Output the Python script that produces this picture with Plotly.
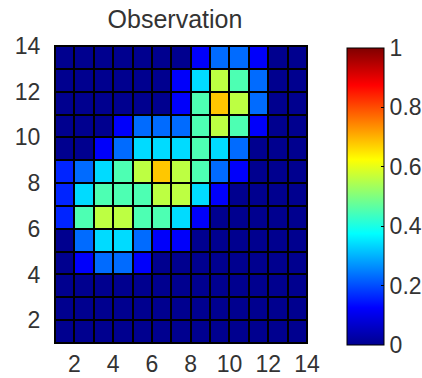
import plotly.graph_objects as go

# cell edges (pcolor-style: 13x13 cells spanning 1..14)
x_edges = list(range(1, 15))
y_edges = list(range(1, 15))

# values per row, bottom (y=1) to top (y=13)
row_y1 = [0, 0, 0, 0, 0, 0, 0, 0, 0, 0, 0, 0, 0]
row_y2 = [0, 0, 0, 0, 0, 0, 0, 0, 0, 0, 0, 0, 0]
row_y3 = [0, 0, 0, 0, 0, 0, 0, 0, 0, 0, 0, 0, 0]
row_y4 = [0, 0.12, 0.23, 0.23, 0.12, 0, 0, 0, 0, 0, 0, 0, 0]
row_y5 = [0, 0.23, 0.34, 0.34, 0.23, 0.12, 0.12, 0, 0, 0, 0, 0, 0]
row_y6 = [0.16, 0.45, 0.56, 0.56, 0.45, 0.45, 0.34, 0.12, 0, 0, 0, 0, 0]
row_y7 = [0.16, 0.34, 0.45, 0.45, 0.45, 0.56, 0.56, 0.34, 0.12, 0, 0, 0, 0]
row_y8 = [0.16, 0.23, 0.34, 0.45, 0.56, 0.68, 0.56, 0.45, 0.23, 0.12, 0, 0, 0]
row_y9 = [0, 0, 0.12, 0.23, 0.34, 0.34, 0.34, 0.45, 0.34, 0.23, 0, 0, 0]
row_y10 = [0, 0, 0, 0.12, 0.23, 0.23, 0.23, 0.45, 0.56, 0.45, 0.12, 0, 0]
row_y11 = [0, 0, 0, 0, 0, 0, 0.12, 0.45, 0.68, 0.56, 0.23, 0, 0]
row_y12 = [0, 0, 0, 0, 0, 0, 0.12, 0.34, 0.56, 0.45, 0.23, 0, 0]
row_y13 = [0, 0, 0, 0, 0, 0, 0, 0.12, 0.23, 0.23, 0.12, 0, 0]

z = [row_y1, row_y2, row_y3, row_y4, row_y5, row_y6, row_y7,
     row_y8, row_y9, row_y10, row_y11, row_y12, row_y13]

axis_ticks = [2, 4, 6, 8, 10, 12, 14]
cbar_ticks = [0, 0.2, 0.4, 0.6, 0.8, 1]
cbar_labels = ["0", "0.2", "0.4", "0.6", "0.8", "1"]

jet = [
    [0.0, "rgb(0,0,143)"],
    [0.125, "rgb(0,0,255)"],
    [0.375, "rgb(0,255,255)"],
    [0.625, "rgb(255,255,0)"],
    [0.875, "rgb(255,0,0)"],
    [1.0, "rgb(128,0,0)"],
]

W, H = 422, 378
L, R, T, B = 55, 115, 46, 35
plot_w = W - L - R
plot_h = H - T - B
FONT = "Liberation Sans"
TXT = "#333333"

fig = go.Figure(go.Heatmap(
    x=x_edges, y=y_edges, z=z,
    zmin=0, zmax=1, colorscale=jet,
    xgap=2, ygap=2,
    colorbar=dict(
        x=(347 - L) / plot_w, xanchor="left",
        y=(H - B - 196.5) / plot_h, yanchor="middle",
        lenmode="pixels", len=297,
        thickness=37, xpad=0, ypad=0,
        outlinecolor="black", outlinewidth=1,
        ticks="inside", ticklen=3, tickcolor="black",
        tickvals=cbar_ticks, ticktext=cbar_labels,
        tickfont=dict(family=FONT, size=23, color=TXT),
    ),
))

fig.update_layout(
    width=W, height=H,
    margin=dict(l=L, r=R, t=T, b=B, pad=0, autoexpand=False),
    paper_bgcolor="white", plot_bgcolor="black",
    title=dict(text="Observation", x=(175 - L) / plot_w, xref="paper",
               xanchor="center", y=1 - 19 / H, yref="container", yanchor="middle",
               font=dict(family=FONT, size=25, color=TXT)),
    xaxis=dict(range=[1, 14], tickvals=axis_ticks, showgrid=False, zeroline=False,
               automargin=False,
               showline=True, linecolor="black", linewidth=1, mirror=True,
               ticks="",
               tickfont=dict(family=FONT, size=23, color=TXT)),
    yaxis=dict(range=[1, 14], tickvals=axis_ticks, showgrid=False, zeroline=False,
               automargin=False,
               showline=True, linecolor="black", linewidth=1, mirror=True,
               ticks="outside", ticklen=9, tickcolor="rgba(0,0,0,0)",
               tickfont=dict(family=FONT, size=23, color=TXT)),
)

fig.write_html("out.html", config={"displayModeBar": False},
               post_script="document.body.style.margin='0';")
